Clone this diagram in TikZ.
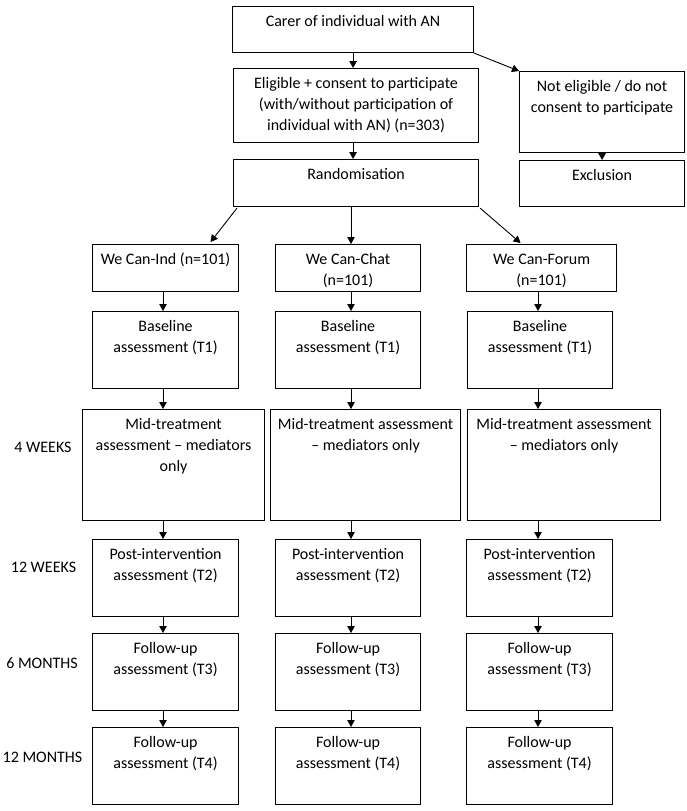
\documentclass[tikz,border=0pt]{standalone}
\usepackage{fontspec}
\setmainfont{Carlito}
\usetikzlibrary{arrows.meta,calc}
\newcommand\fs{\fontsize{16}{21.3}\selectfont}
\newcommand\fl{\rule{0pt}{13pt}}
\tikzset{
  box/.style={draw, line width=1.1pt, inner sep=0pt},
  txt/.style={font=\fs, align=center, inner sep=0pt, anchor=north},
  arr/.style={line width=0.9pt, -{Triangle[length=7pt,width=7.5pt]}},
  tp/.style={font=\fs, inner sep=0pt}
}
% name, x1, y1, x2, y2, text
\newcommand\mybox[6]{%
  \node[box, anchor=north west, minimum width={(#4-#2)*1pt}, minimum height={(#5-#3)*1pt}] (#1) at (#2,#3) {};
  \node[txt] (#1t) at ([yshift=-7pt]#1.north) {\fl #6};
}
\begin{document}
\begin{tikzpicture}[x=1pt,y=-1pt]
\fill[white] (0,0) rectangle (686,811);
\useasboundingbox (0,0) rectangle (686,811);

\coordinate (c1) at (163,0);
\coordinate (c2) at (351,0);
\coordinate (c3) at (538,0);

\mybox{carer}{232}{6}{473}{52}{Carer of individual with AN}
\mybox{elig}{233}{68}{478}{142}{Eligible + consent to participate\\(with/without participation of\\individual with AN) (n=303)}
\mybox{rand}{233}{159}{478}{206}{Randomisation}
\mybox{noteli}{519}{71}{684}{152}{Not eligible / do not\\consent to participate}
\mybox{excl}{519}{160}{684}{206}{Exclusion}

\mybox{ind}{92}{244}{238}{291}{We Can-Ind (n=101)}
\mybox{chat}{275}{244}{420}{291}{We Can-Chat\\(n=101)}
\mybox{forum}{466}{244}{616}{291}{We Can-Forum\\(n=101)}

\mybox{baseA}{92}{311}{238}{388}{Baseline\\assessment (T1)}
\mybox{baseB}{275}{311}{420}{388}{Baseline\\assessment (T1)}
\mybox{baseC}{467}{311}{612}{388}{Baseline\\assessment (T1)}

\mybox{midA}{82}{409}{264}{520}{Mid-treatment\\assessment – mediators\\only}
\mybox{midB}{270}{409}{460}{520}{Mid-treatment assessment\\– mediators only}
\mybox{midC}{467}{409}{660}{520}{Mid-treatment assessment\\– mediators only}

\mybox{postA}{92}{539}{238}{616}{Post-intervention\\assessment (T2)}
\mybox{postB}{275}{539}{420}{616}{Post-intervention\\assessment (T2)}
\mybox{postC}{466}{539}{612}{616}{Post-intervention\\assessment (T2)}

\mybox{fuA}{92}{633}{238}{710}{Follow-up\\assessment (T3)}
\mybox{fuB}{275}{633}{420}{710}{Follow-up\\assessment (T3)}
\mybox{fuC}{466}{633}{612}{710}{Follow-up\\assessment (T3)}

\mybox{fvA}{92}{727}{238}{804}{Follow-up\\assessment (T4)}
\mybox{fvB}{275}{727}{420}{804}{Follow-up\\assessment (T4)}
\mybox{fvC}{466}{727}{612}{804}{Follow-up\\assessment (T4)}

\node[tp] (w4) at (43,447) {4 WEEKS};
\node[tp] (w12) at (43.5,567) {12 WEEKS};
\node[tp] (m6) at (42,663) {6 MONTHS};
\node[tp] (m12) at (42.5,757) {12 MONTHS};

% top arrows
\draw[arr] (carer.south) -- (carer.south |- elig.north);
\draw[arr] (carer.south |- elig.south) -- (carer.south |- rand.north);
\draw[arr] (carer.south east) -- (noteli.north west);
\draw[arr] (noteli.south) -- (excl.north);

% randomisation arrows
\draw[arr] ([xshift=4pt,yshift=-1pt]rand.south west) -- ([xshift=45pt,yshift=2pt]ind.north);
\draw[arr] (rand.south -| c2) -- (chat.north -| c2);
\draw[arr] ([xshift=1pt,yshift=-1pt]rand.south east) -- ([xshift=-21pt,yshift=1pt]forum.north);

% column arrows
\foreach \c/\a/\b in {c1/ind/baseA, c2/chat/baseB, c3/forum/baseC,
                      c1/baseA/midA, c2/baseB/midB, c3/baseC/midC,
                      c1/midA/postA, c2/midB/postB, c3/midC/postC,
                      c1/postA/fuA, c2/postB/fuB, c3/postC/fuC,
                      c1/fuA/fvA, c2/fuB/fvB, c3/fuC/fvC}
  \draw[arr] (\a.south -| \c) -- (\b.north -| \c);
\end{tikzpicture}
\end{document}
